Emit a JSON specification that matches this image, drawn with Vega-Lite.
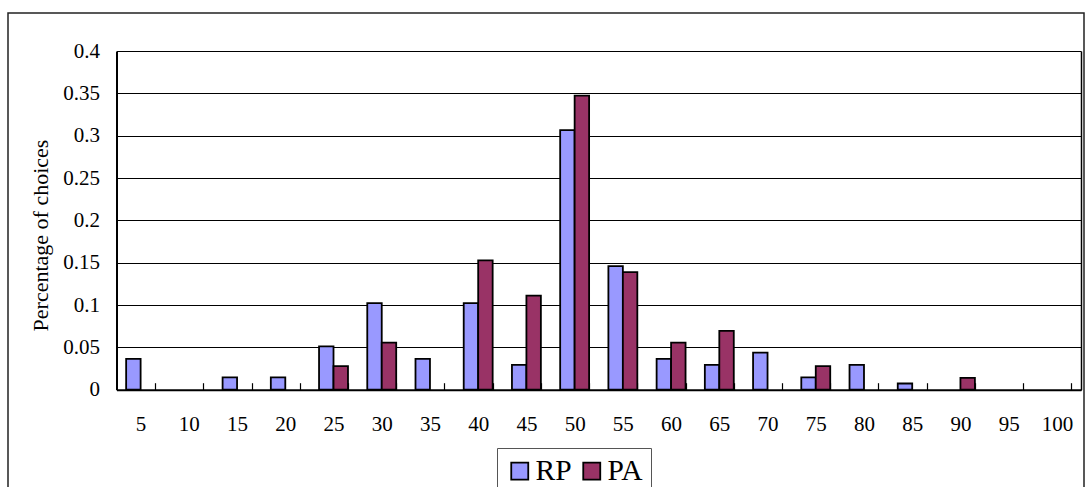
{
  "$schema": "https://vega.github.io/schema/vega-lite/v6.json",
  "width": 1076,
  "height": 484,
  "autosize": {"type": "none"},
  "padding": {"left": 8, "top": 13, "right": 1, "bottom": -10},
  "background": "white",
  "config": {
    "view": {"stroke": "#222222", "strokeWidth": 1.5},
    "font": "Liberation Serif"
  },
  "data": {
    "values": [
      {"choice": 5, "series": "RP", "value": 0.0365},
      {"choice": 15, "series": "RP", "value": 0.0146},
      {"choice": 20, "series": "RP", "value": 0.0146},
      {"choice": 25, "series": "RP", "value": 0.0511},
      {"choice": 30, "series": "RP", "value": 0.1022},
      {"choice": 35, "series": "RP", "value": 0.0365},
      {"choice": 40, "series": "RP", "value": 0.1022},
      {"choice": 45, "series": "RP", "value": 0.0292},
      {"choice": 50, "series": "RP", "value": 0.3066},
      {"choice": 55, "series": "RP", "value": 0.146},
      {"choice": 60, "series": "RP", "value": 0.0365},
      {"choice": 65, "series": "RP", "value": 0.0292},
      {"choice": 70, "series": "RP", "value": 0.0438},
      {"choice": 75, "series": "RP", "value": 0.0146},
      {"choice": 80, "series": "RP", "value": 0.0292},
      {"choice": 85, "series": "RP", "value": 0.0073},
      {"choice": 25, "series": "PA", "value": 0.0278},
      {"choice": 30, "series": "PA", "value": 0.0556},
      {"choice": 40, "series": "PA", "value": 0.1528},
      {"choice": 45, "series": "PA", "value": 0.1111},
      {"choice": 50, "series": "PA", "value": 0.3472},
      {"choice": 55, "series": "PA", "value": 0.1389},
      {"choice": 60, "series": "PA", "value": 0.0556},
      {"choice": 65, "series": "PA", "value": 0.0694},
      {"choice": 75, "series": "PA", "value": 0.0278},
      {"choice": 90, "series": "PA", "value": 0.0139}
    ]
  },
  "layer": [
    {
      "mark": {"type": "bar", "stroke": "black", "strokeWidth": 1.8},
      "encoding": {
        "x": {
          "field": "choice",
          "type": "ordinal",
          "scale": {
            "domain": [5, 10, 15, 20, 25, 30, 35, 40, 45, 50, 55, 60, 65, 70, 75, 80, 85, 90, 95, 100],
            "range": [108.5, 1073],
            "paddingInner": 0.4,
            "paddingOuter": 0.2
          },
          "axis": {
            "orient": "bottom",
            "offset": -107.3,
            "title": null,
            "grid": false,
            "domainColor": "black",
            "domainWidth": 2,
            "tickBand": "extent",
            "tickSize": -7,
            "tickColor": "black",
            "tickWidth": 1.2,
            "labelFontSize": 21,
            "labelPadding": 31,
            "labelColor": "black",
            "labelAngle": 0
          }
        },
        "xOffset": {"field": "series", "type": "nominal", "scale": {"domain": ["RP", "PA"]}},
        "y": {
          "field": "value",
          "type": "quantitative",
          "scale": {"domain": [0, 0.4], "range": [376.7, 38], "nice": false},
          "axis": {
            "orient": "left",
            "offset": -108.5,
            "values": [0, 0.05, 0.1, 0.15, 0.2, 0.25, 0.3, 0.35, 0.4],
            "format": "~g",
            "grid": true,
            "gridColor": "black",
            "gridWidth": 1,
            "gridOpacity": 1,
            "domainColor": "black",
            "domainWidth": 2,
            "ticks": false,
            "tickSize": 0,
            "labelPadding": 17,
            "labelFontSize": 21,
            "labelColor": "black",
            "title": "Percentage of choices",
            "titleFontSize": 22,
            "titleFontWeight": "normal",
            "titleColor": "black",
            "titleX": -64,
            "titleY": 222
          }
        },
        "color": {
          "field": "series",
          "type": "nominal",
          "scale": {"domain": ["RP", "PA"], "range": ["#9999FF", "#993366"]},
          "legend": {
            "orient": "none",
            "legendX": 489,
            "legendY": 435,
            "direction": "horizontal",
            "title": null,
            "strokeColor": "#555555",
            "fillColor": "white",
            "padding": 8,
            "symbolType": "square",
            "symbolSize": 289,
            "symbolStrokeColor": "black",
            "symbolStrokeWidth": 1.8,
            "symbolOpacity": 1,
            "labelFontSize": 29.5,
            "labelOffset": 1,
            "columnPadding": 5,
            "labelColor": "black"
          }
        }
      }
    },
    {
      "mark": {"type": "rule", "opacity": 0},
      "encoding": {
        "y": {
          "field": "value",
          "type": "quantitative",
          "axis": {
            "orient": "right",
            "offset": -3,
            "labels": false,
            "ticks": false,
            "grid": false,
            "title": null,
            "domainColor": "black",
            "domainWidth": 1.5
          }
        }
      }
    }
  ],
  "resolve": {"axis": {"y": "independent"}}
}
